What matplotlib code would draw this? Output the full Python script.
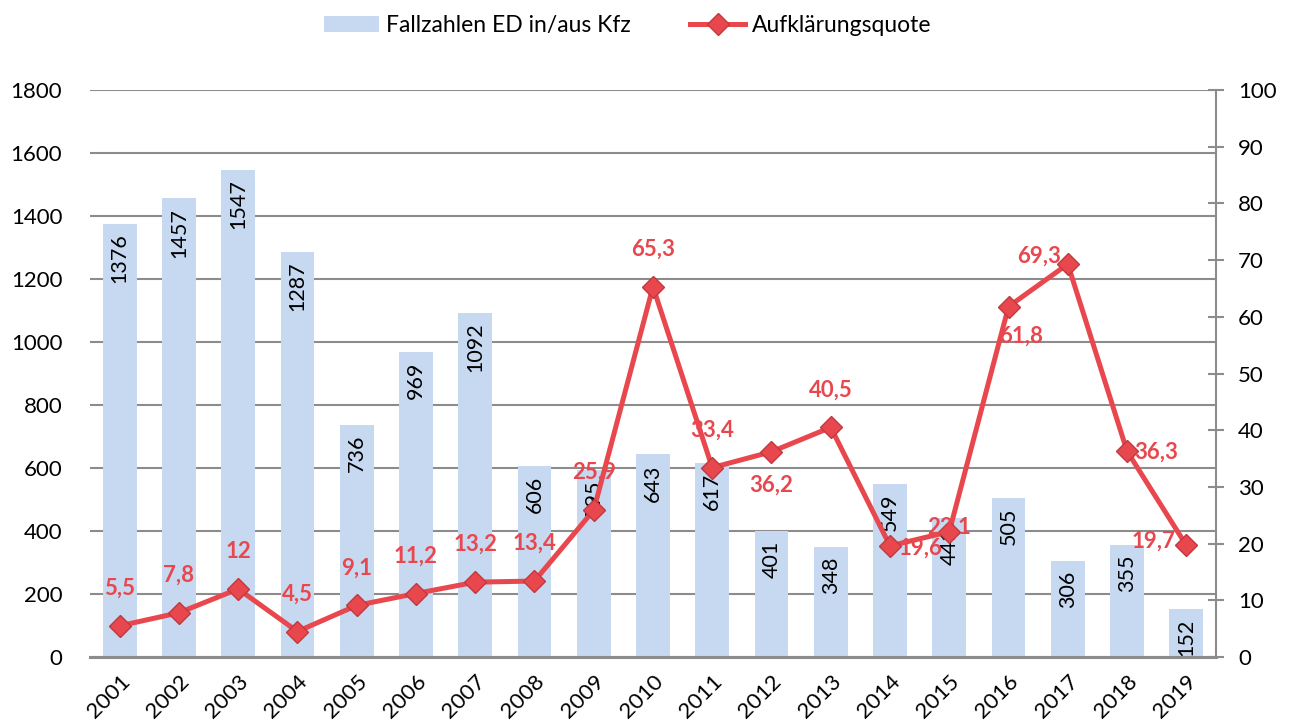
import matplotlib
matplotlib.use("Agg")
import matplotlib.pyplot as plt
from matplotlib.patches import Patch
from matplotlib.lines import Line2D

years = ["2001", "2002", "2003", "2004", "2005", "2006", "2007", "2008", "2009", "2010",
         "2011", "2012", "2013", "2014", "2015", "2016", "2017", "2018", "2019"]
cases = [1376, 1457, 1547, 1287, 736, 969, 1092, 606, 595, 643,
         617, 401, 348, 549, 441, 505, 306, 355, 152]
quote = [5.5, 7.8, 12, 4.5, 9.1, 11.2, 13.2, 13.4, 25.9, 65.3,
         33.4, 36.2, 40.5, 19.6, 22.1, 61.8, 69.3, 36.3, 19.7]
quote_labels = ["5,5", "7,8", "12", "4,5", "9,1", "11,2", "13,2", "13,4", "25,9", "65,3",
                "33,4", "36,2", "40,5", "19,6", "22,1", "61,8", "69,3", "36,3", "19,7"]
left_ticks = [0, 200, 400, 600, 800, 1000, 1200, 1400, 1600, 1800]
right_ticks = [0, 10, 20, 30, 40, 50, 60, 70, 80, 90, 100]

# styling
FONT = ["Lato", "DejaVu Sans"]
plt.rcParams['font.family'] = FONT
BAR_C = "#C6D9F1"
LINE_C = "#E8474E"
EDGE_C = "#C0393F"
GRID_C = "#8C8C8C"
FS = 16
# label offsets (points) for line labels
offsets = {0: (0, 27), 1: (0, 27), 2: (0, 27), 3: (0, 27), 4: (0, 27), 5: (0, 27),
           6: (0, 27), 7: (0, 27), 8: (0, 27), 9: (0, 27), 10: (0, 27), 11: (0, -24),
           12: (0, 27), 13: (22, -2), 14: (0, 3), 15: (9, -21), 16: (-21, 6),
           17: (21, -1), 18: (-24, 3)}

fig = plt.figure(figsize=(12.97, 7.28), dpi=100)
ax = fig.add_axes([0.0694, 0.0975, 0.8681, 0.7789])
x = list(range(len(years)))

ax.set_axisbelow(True)
ax.yaxis.grid(True, color=GRID_C, linewidth=1.5)
ax.bar(x, cases, width=0.57, color=BAR_C, zorder=2)
ax.set_xlim(-0.5, len(years) - 0.5)
ax.set_ylim(0, 1800)
ax.set_yticks(left_ticks)
ax.set_xticks(x)
ax.set_xticklabels(years, rotation=45, ha="right", rotation_mode="anchor")
ax.tick_params(axis="y", length=0, labelsize=FS, pad=20)
ax.tick_params(axis="x", length=0, labelsize=FS, pad=10)
for s in ["left", "top", "right"]:
    ax.spines[s].set_visible(False)
ax.spines["bottom"].set_color(GRID_C)
ax.spines["bottom"].set_linewidth(2.2)

for xi, v in zip(x, cases):
    ax.annotate(str(v), (xi, v), xytext=(0, -7), textcoords="offset points",
                rotation=90, ha="center", va="top", fontsize=15.5, color="black", zorder=3)

ax2 = ax.twinx()
ax2.set_ylim(0, 100)
ax2.set_yticks(right_ticks)
ax2.plot(x, quote, color=LINE_C, linewidth=3.6, marker="D", markersize=11,
         markerfacecolor=LINE_C, markeredgecolor=EDGE_C, markeredgewidth=1, zorder=4)
for s in ["left", "top", "bottom"]:
    ax2.spines[s].set_visible(False)
ax2.spines["right"].set_color(GRID_C)
ax2.spines["right"].set_linewidth(1.5)
ax2.tick_params(axis="y", direction="inout", length=12, width=1.5, color=GRID_C,
                labelsize=FS, pad=10)

for i, (xi, v, lab) in enumerate(zip(x, quote, quote_labels)):
    dx, dy = offsets[i]
    ax2.annotate(lab, (xi, v), xytext=(dx, dy), textcoords="offset points",
                 ha="center", va="center", fontsize=16, fontweight="bold",
                 color=LINE_C, zorder=5)

handles = [Patch(facecolor=BAR_C, edgecolor="none"),
           Line2D([0], [0], color=LINE_C, linewidth=3.6, marker="D", markersize=11,
                  markerfacecolor=LINE_C, markeredgecolor=EDGE_C)]
fig.legend(handles, ["Fallzahlen ED in/aus Kfz", "Aufklärungsquote"],
           loc="center", bbox_to_anchor=(0.484, 0.965), ncol=2, frameon=False,
           fontsize=16.5, handlelength=2.4, columnspacing=2.6, handletextpad=0.3)

fig.savefig("out.png", dpi=100)
